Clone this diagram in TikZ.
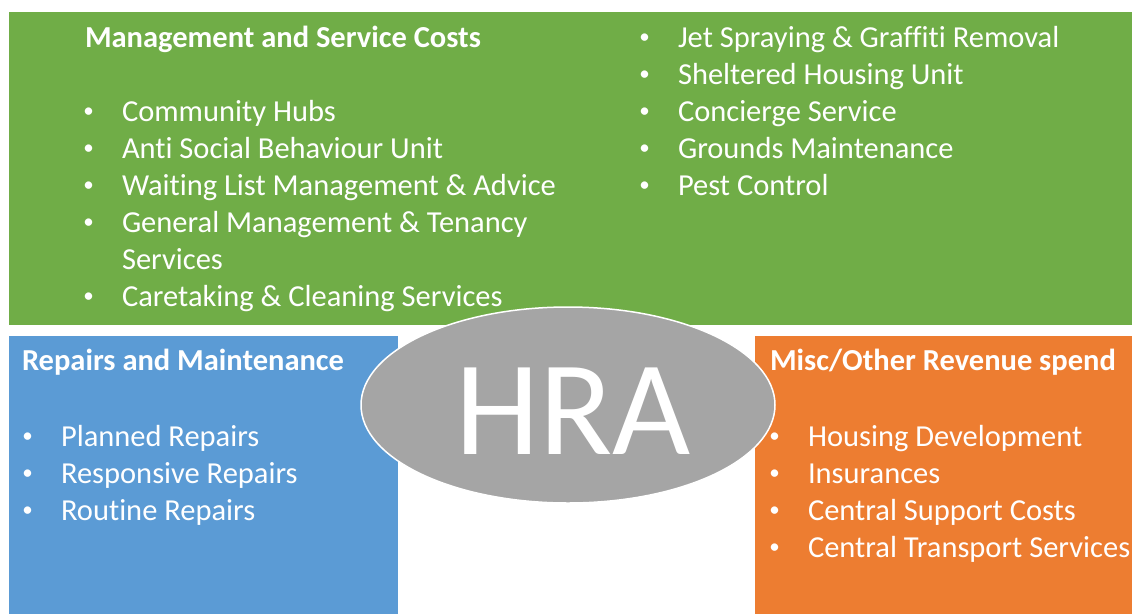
\documentclass[tikz,border=0pt]{standalone}
\usepackage{fontspec}
\setmainfont{Carlito}[Ligatures=CommonOff]
\usetikzlibrary{shapes.geometric}
\definecolor{mgmtgreen}{HTML}{70AD47}
\definecolor{repairblue}{HTML}{5B9BD5}
\definecolor{miscorange}{HTML}{ED7D31}
\definecolor{hragrey}{HTML}{A5A5A5}
\tikzset{
  every node/.style={inner sep=0pt,outer sep=0pt,text=white,
    font=\fontsize{30.5}{37}\selectfont},
  heading/.style={anchor=base west,font=\fontsize{30.5}{37}\selectfont\bfseries},
  item/.style={anchor=base west},
  dot/.style={anchor=base,font=\fontsize{21}{21}\selectfont},
  hub/.style={ellipse,fill=hragrey,draw=white,line width=1.5pt,
    minimum width=414pt,minimum height=196pt}}
\begin{document}
\begin{tikzpicture}[x=1pt,y=-1pt]
\useasboundingbox(0,0)rectangle(1132,614);
% three cost panels
\fill[mgmtgreen](9,12)rectangle(1132,325);
\fill[repairblue](9,336)rectangle(398,614);
\fill[miscorange](755,336)rectangle(1132,614);
% centre
\node[hub](hra)at(568,405){};
\node[anchor=base,font=\fontsize{135}{135}\selectfont](hralabel)at(573,454){HRA};
% management and service costs
\node[heading](mgmttitle)at(85,47){Management and Service Costs};
\foreach \txt[count=\i from 2]in{Community Hubs,Anti Social Behaviour Unit,Waiting List Management \& Advice,General Management \& Tenancy}{
  \node[dot](mgmtdot\i)at(88.5,{43+37*\i}){•};
  \node[item](mgmt\i)at(122,{47+37*\i}){\txt};
}
\node[item](mgmtcont)at(122,269){Services};
\node[dot](mgmtdot7)at(88.5,302){•};
\node[item](mgmt7)at(122,306){Caretaking \& Cleaning Services};
\foreach \txt[count=\i from 0]in{Jet Spraying \& Graffiti Removal,Sheltered Housing Unit,Concierge Service,Grounds Maintenance,Pest Control}{
  \node[dot](svcdot\i)at(644.5,{43+37*\i}){•};
  \node[item](svc\i)at(678,{47+37*\i}){\txt};
}
% repairs and maintenance
\node[heading](reptitle)at(22,370){Repairs and Maintenance};
\foreach \txt[count=\i from 0]in{Planned Repairs,Responsive Repairs,Routine Repairs}{
  \node[dot](repdot\i)at(27.5,{442+37*\i}){•};
  \node[item](rep\i)at(61,{446+37*\i}){\txt};
}
% misc / other revenue spend
\node[heading](misctitle)at(770,370){Misc/Other Revenue spend};
\foreach \txt[count=\i from 0]in{Housing Development,Insurances,Central Support Costs,Central Transport Services}{
  \node[dot](miscdot\i)at(774.5,{442+37*\i}){•};
  \node[item](misc\i)at(808,{446+37*\i}){\txt};
}
\end{tikzpicture}
\end{document}
